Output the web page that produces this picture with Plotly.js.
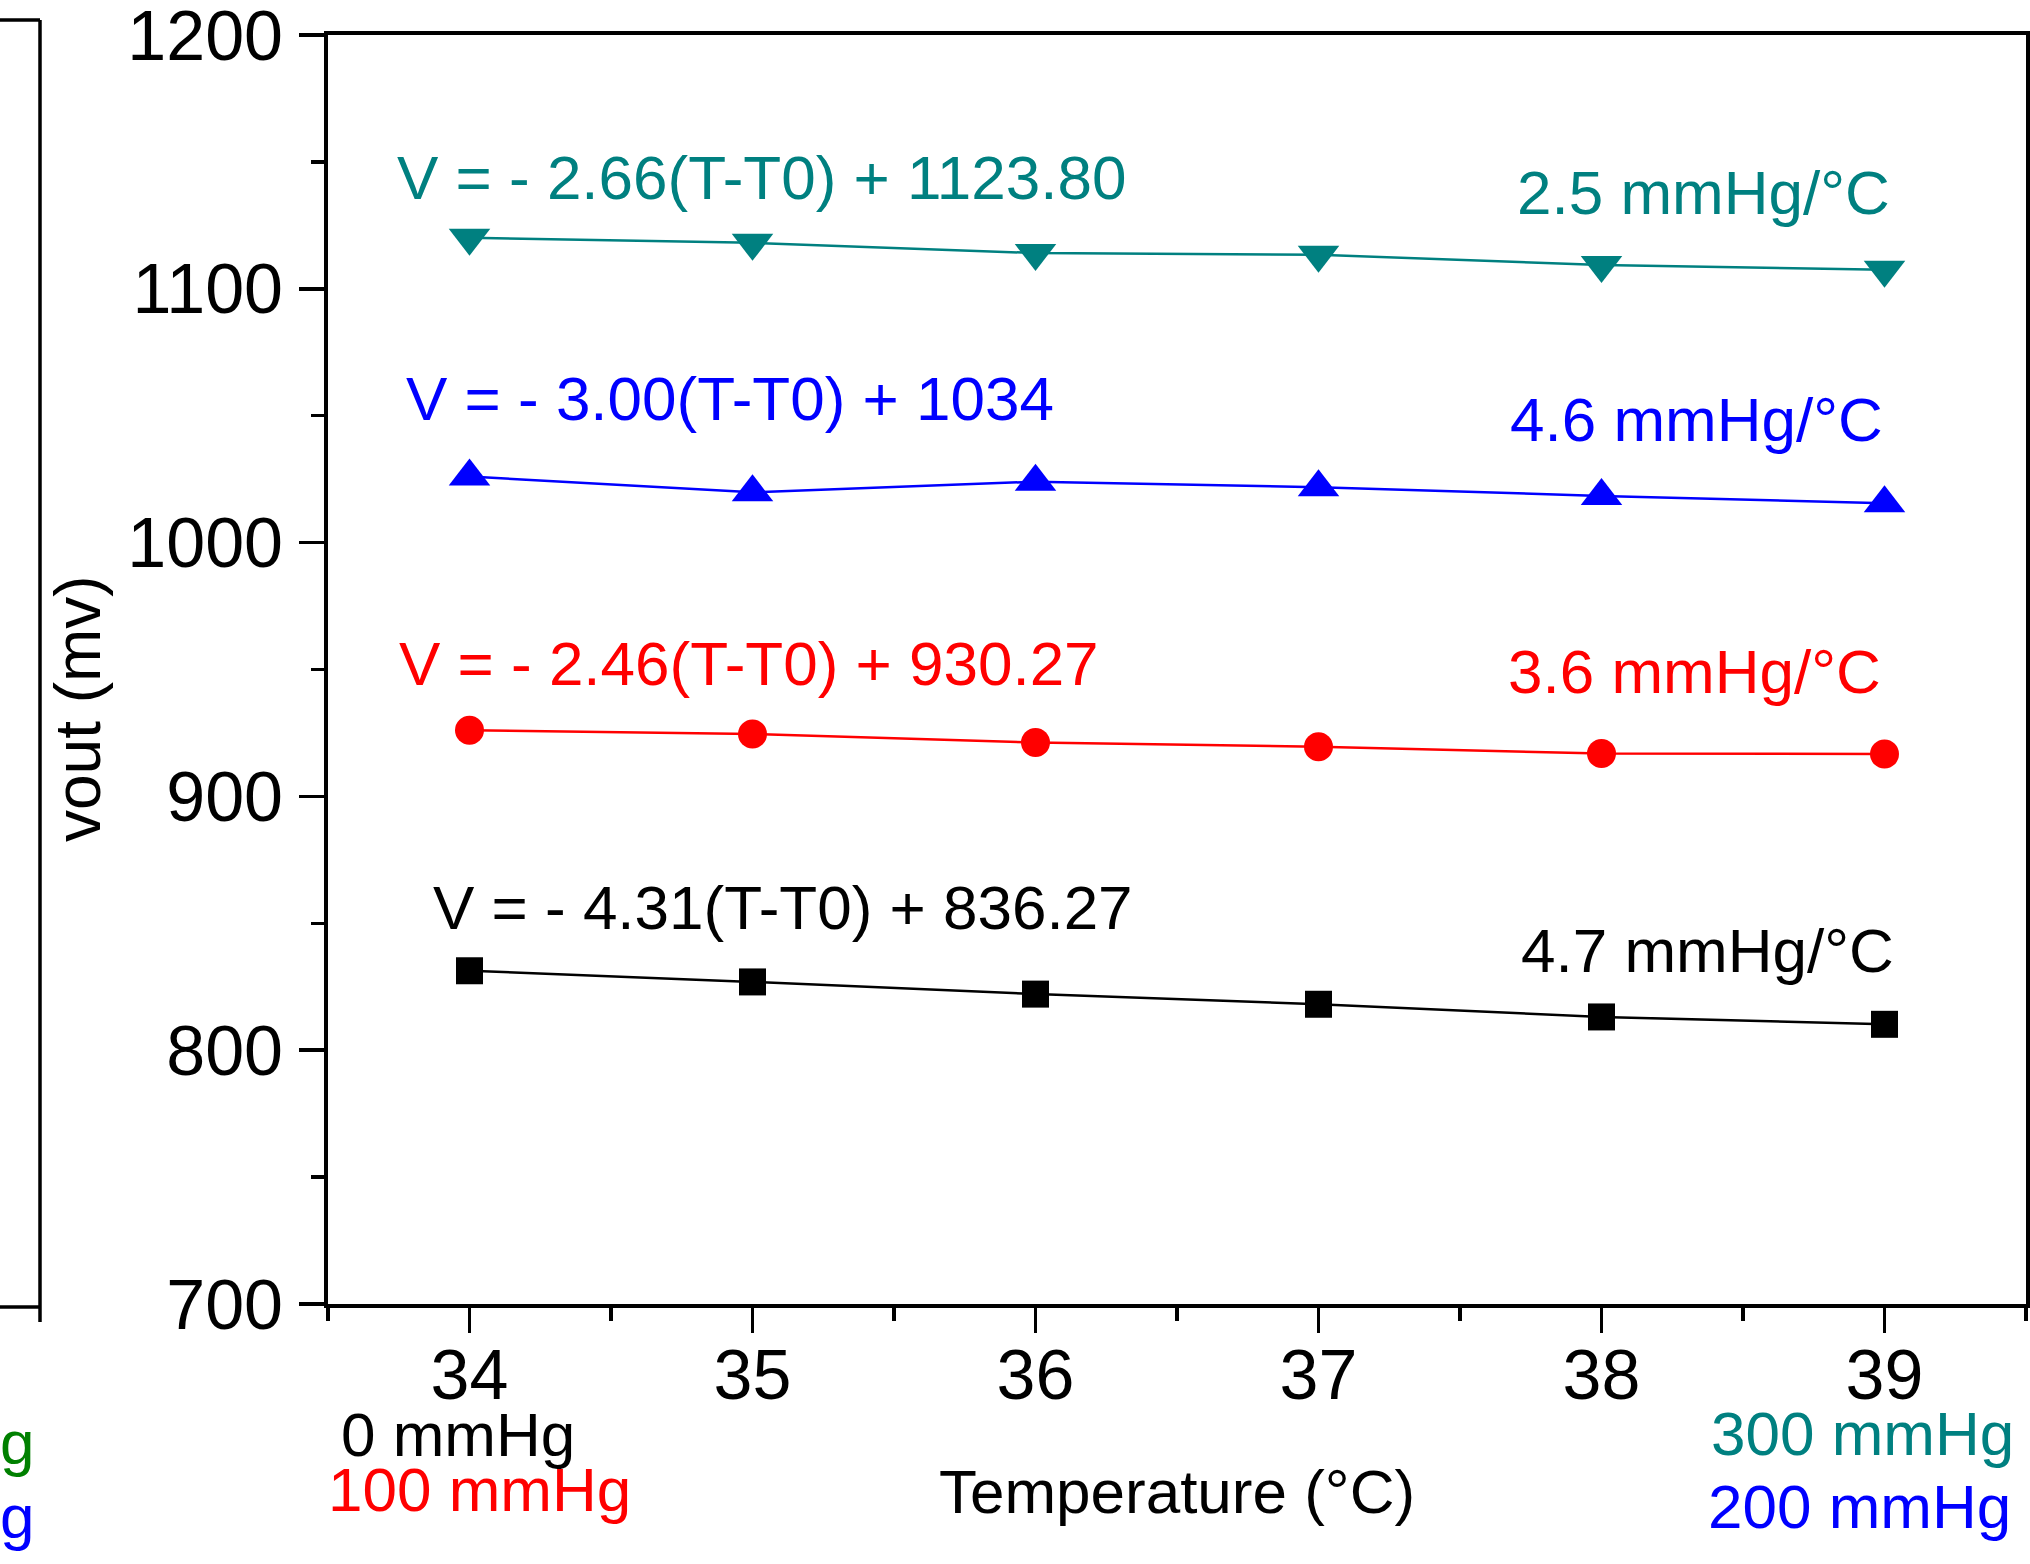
<!DOCTYPE html>
<html>
<head>
<meta charset="utf-8">
<script src="https://cdn.plot.ly/plotly-3.0.1.min.js"></script>
<style>
html, body { margin: 0; padding: 0; background: #ffffff; }
#chart { width: 2030px; height: 1564px; }
</style>
</head>
<body>
<div id="chart"></div>
<script>
// ---- Data ----
const temperature = [34, 35, 36, 37, 38, 39];
const vout0mmHg   = [831.3, 826.9, 822.1, 818.1, 813.1, 810.2];
const vout100mmHg = [926.1, 924.6, 921.2, 919.6, 916.9, 916.7];
const vout200mmHg = [1026.0, 1019.8, 1024.0, 1021.8, 1018.4, 1015.5];
const vout300mmHg = [1120.1, 1118.1, 1114.1, 1113.4, 1109.4, 1107.5];

const seriesNames = ['0 mmHg', '100 mmHg', '200 mmHg', '300 mmHg'];
const fitLabels = [
  'V = - 4.31(T-T0) + 836.27',
  'V = - 2.46(T-T0) + 930.27',
  'V = - 3.00(T-T0) + 1034',
  'V = - 2.66(T-T0) + 1123.80'
];
const sensitivityLabels = ['4.7 mmHg/°C', '3.6 mmHg/°C', '4.6 mmHg/°C', '2.5 mmHg/°C'];
const xTickValues = [34, 35, 36, 37, 38, 39];
const yTickValues = [700, 800, 900, 1000, 1100, 1200];
const xTitle = 'Temperature (°C)';
const yTitle = 'vout (mv)';
const neighbourFragments = ['g', 'g'];

// ---- Styling ----
const colors = ['#000000', '#ff0000', '#0000ff', '#008080'];
const symbols = ['square', 'circle', 'triangle-up', 'triangle-down'];
const markerSizes = [27, 29, 36, 36];
const FONT = 'Arial, "Liberation Sans", Helvetica, sans-serif';

// plot-area geometry in page pixels (used only to place text / frame fragments)
const L = 328, R = 2026, T = 35, B = 1304;
const W = R - L, H = B - T;
const px = X => (X - L) / W;
const py = Y => (B - Y) / H;

const allSeries = [vout0mmHg, vout100mmHg, vout200mmHg, vout300mmHg];
const traces = allSeries.map((vals, i) => ({
  x: temperature,
  y: vals,
  name: seriesNames[i],
  type: 'scatter',
  mode: 'lines+markers',
  line: { color: colors[i], width: 2.5 },
  marker: { color: colors[i], symbol: symbols[i], size: markerSizes[i], line: { width: 0 } },
  showlegend: false,
  cliponaxis: false
}));

// text positions (page px): [x_left, y_center]
const eqPos   = [[431, 907], [397, 663], [404, 399], [395, 177]];
const sensPos = [[1519, 950], [1506, 672], [1508, 419], [1515, 193]];
const namePos = [[339, 1434], [326, 1489], [1706, 1506], [1709, 1433]];

const annotations = [];
for (let i = 0; i < 4; i++) {
  annotations.push({ text: fitLabels[i], x: px(eqPos[i][0]), y: py(eqPos[i][1]),
    xref: 'paper', yref: 'paper', xanchor: 'left', yanchor: 'middle', showarrow: false,
    font: { family: FONT, size: 62, color: colors[i] } });
  annotations.push({ text: sensitivityLabels[i], x: px(sensPos[i][0]), y: py(sensPos[i][1]),
    xref: 'paper', yref: 'paper', xanchor: 'left', yanchor: 'middle', showarrow: false,
    font: { family: FONT, size: 62, color: colors[i] } });
  annotations.push({ text: seriesNames[i], x: px(namePos[i][0]), y: py(namePos[i][1]),
    xref: 'paper', yref: 'paper', xanchor: 'left', yanchor: 'middle', showarrow: false,
    font: { family: FONT, size: 62, color: colors[i] } });
}
// y-axis title
annotations.push({ text: yTitle, x: px(78), y: py(709), xref: 'paper', yref: 'paper',
  xanchor: 'center', yanchor: 'middle', textangle: -90, showarrow: false,
  font: { family: FONT, size: 64, color: '#000000' } });
// fragments of neighbouring panel
annotations.push({ text: neighbourFragments[0], x: px(-2), y: py(1442), xref: 'paper', yref: 'paper',
  xanchor: 'left', yanchor: 'middle', showarrow: false, font: { family: FONT, size: 62, color: '#008000' } });
annotations.push({ text: neighbourFragments[1], x: px(-2), y: py(1517), xref: 'paper', yref: 'paper',
  xanchor: 'left', yanchor: 'middle', showarrow: false, font: { family: FONT, size: 62, color: '#0000ff' } });

const fragLine = { color: '#000000', width: 3.5 };
const shapes = [
  { type: 'line', xref: 'paper', yref: 'paper', x0: px(0), x1: px(40), y0: py(20), y1: py(20), line: fragLine },
  { type: 'line', xref: 'paper', yref: 'paper', x0: px(40), x1: px(40), y0: py(20), y1: py(1322), line: fragLine },
  { type: 'line', xref: 'paper', yref: 'paper', x0: px(0), x1: px(40), y0: py(1307), y1: py(1307), line: fragLine }
];

const axisCommon = {
  showline: true, linecolor: '#000000', linewidth: 4, mirror: true,
  ticks: 'outside', ticklen: 25, tickwidth: 3.5, tickcolor: '#000000',
  showgrid: false, zeroline: false,
  ticklabeloverflow: 'allow',
  tickfont: { family: FONT, size: 70, color: '#000000' }
};

const layout = {
  width: 2030, height: 1564,
  margin: { l: L, r: 2030 - R, t: T, b: 1564 - B, pad: 0 },
  paper_bgcolor: '#ffffff', plot_bgcolor: '#ffffff',
  font: { family: FONT, color: '#000000' },
  xaxis: Object.assign({}, axisCommon, {
    range: [33.5, 39.5], tickvals: xTickValues, ticktext: xTickValues.map(String),
    ticklabelstandoff: -18,
    minor: { dtick: 0.5, tick0: 33.5, ticks: 'outside', ticklen: 13, tickwidth: 3.5, tickcolor: '#000000', showgrid: false },
    title: { text: xTitle, standoff: 58, font: { family: FONT, size: 62, color: '#000000' } }
  }),
  yaxis: Object.assign({}, axisCommon, {
    range: [700, 1200], tickvals: yTickValues, ticktext: yTickValues.map(String),
    ticklabelstandoff: 2,
    minor: { dtick: 50, tick0: 700, ticks: 'outside', ticklen: 13, tickwidth: 3.5, tickcolor: '#000000', showgrid: false }
  }),
  annotations: annotations,
  shapes: shapes,
  showlegend: false
};

Plotly.newPlot('chart', traces, layout, { staticPlot: true, displayModeBar: false });
</script>
</body>
</html>
